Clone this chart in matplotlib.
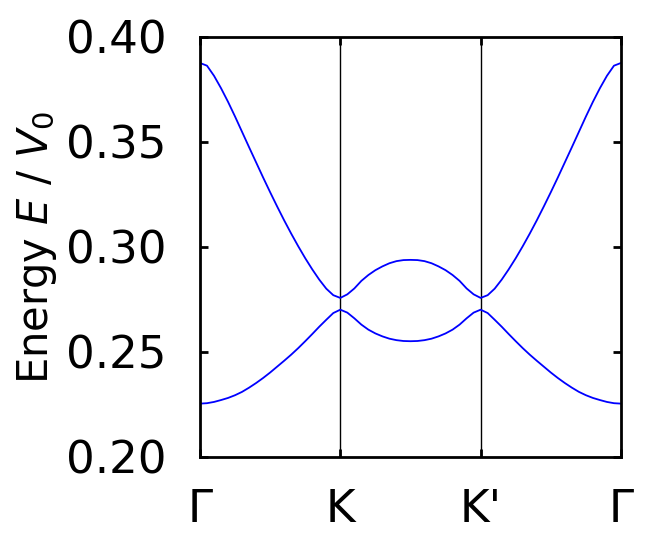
import matplotlib
matplotlib.use("Agg")
import matplotlib.pyplot as plt
import numpy as np

# k-path: Gamma=0, K=1, K'=2, Gamma=3, sampled every 0.05
k_path = np.linspace(0, 3, 61)

# bands (Gamma->K, K->K', K'->Gamma)
upper_band = [0.3875, 0.3862, 0.3814, 0.3755, 0.3690, 0.3620, 0.3547, 0.3474, 0.3402, 0.3330,
              0.3260, 0.3192, 0.3126, 0.3063, 0.3003, 0.2946, 0.2893, 0.2844, 0.2801, 0.2770, 0.2757,
              0.2774, 0.2802, 0.2838, 0.2866, 0.2889, 0.2907, 0.2922, 0.2932, 0.2937, 0.2938,
              0.2937, 0.2932, 0.2922, 0.2907, 0.2889, 0.2866, 0.2838, 0.2802, 0.2774, 0.2757,
              0.2770, 0.2801, 0.2844, 0.2893, 0.2946, 0.3003, 0.3063, 0.3126, 0.3192, 0.3260,
              0.3330, 0.3402, 0.3474, 0.3547, 0.3620, 0.3690, 0.3755, 0.3814, 0.3862, 0.3875]
lower_band = [0.2254, 0.2256, 0.2262, 0.2271, 0.2281, 0.2294, 0.2310, 0.2330, 0.2352, 0.2376,
              0.2402, 0.2430, 0.2458, 0.2487, 0.2518, 0.2551, 0.2585, 0.2620, 0.2653, 0.2685, 0.2701,
              0.2687, 0.2660, 0.2630, 0.2606, 0.2588, 0.2574, 0.2563, 0.2556, 0.2552, 0.2551,
              0.2552, 0.2556, 0.2563, 0.2574, 0.2588, 0.2606, 0.2630, 0.2660, 0.2687, 0.2701,
              0.2685, 0.2653, 0.2620, 0.2585, 0.2551, 0.2518, 0.2487, 0.2458, 0.2430, 0.2402,
              0.2376, 0.2352, 0.2330, 0.2310, 0.2294, 0.2281, 0.2271, 0.2262, 0.2256, 0.2254]

sym_pos = [0, 1, 2, 3]
sym_labels = ["Γ", "K", "K'", "Γ"]
y_ticks = [0.20, 0.25, 0.30, 0.35, 0.40]

plt.rcParams["mathtext.fontset"] = "dejavusans"
plt.rcParams["font.size"] = 32.5

fig = plt.figure(figsize=(6.48, 5.51), dpi=100)
ax = fig.add_axes([0.3086, 0.1706, 0.6497, 0.7628])

for x in sym_pos[1:-1]:
    ax.axvline(x, color="black", lw=1.0)

ax.plot(k_path, upper_band, color="blue", lw=1.3)
ax.plot(k_path, lower_band, color="blue", lw=1.3)

ax.set_xlim(0, 3)
ax.set_ylim(0.2, 0.4)
ax.set_xticks(sym_pos)
ax.set_xticklabels(sym_labels)
ax.set_yticks(y_ticks)
ax.set_yticklabels([f"{v:.2f}" for v in y_ticks])
ax.tick_params(direction="in", length=6, width=2, top=True, right=True)
ax.tick_params(axis="y", pad=24)
ax.tick_params(axis="x", pad=22)
for s in ax.spines.values():
    s.set_linewidth(2)
ax.set_ylabel("Energy $E$ / $V_0$", fontsize=30, labelpad=5)

fig.savefig("out.png", dpi=100)
